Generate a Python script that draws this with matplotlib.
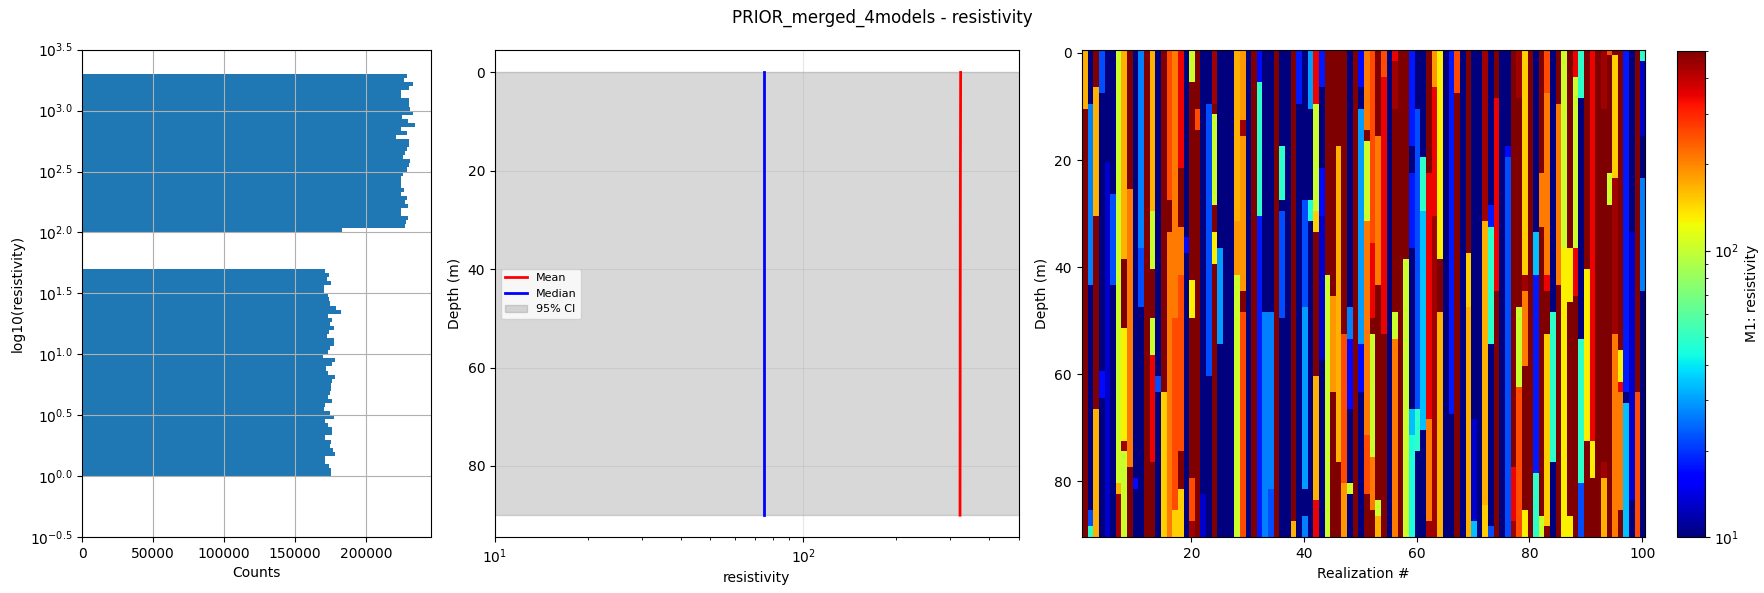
import numpy as np
import matplotlib
matplotlib.use("Agg")
import matplotlib.pyplot as plt
from matplotlib.colors import LogNorm
from matplotlib.ticker import FuncFormatter, MultipleLocator

# ---------------- histogram of log10(resistivity) ----------------
hist_bin_width = 1.0 / 30.0
hist_log_min = 0.0
# counts per bin (thousands), listed from the bottom bin (10^0.0) upward
lower_counts = [175.6, 175.6, 173.7, 170.9, 170.9, 177.9, 176.5, 174.9, 175.1, 171.4,
                175.8, 175.8, 173.0, 170.9, 177.2, 174.4, 170.7, 171.4, 175.8, 173.0,
                174.9, 175.1, 175.1, 175.8, 177.9, 173.0, 171.6, 175.8, 177.9, 169.5,
                173.5, 174.9, 177.2, 177.2, 172.8, 174.2, 177.2, 174.4, 175.8, 173.5,
                182.2, 179.1, 174.9, 174.2, 173.5, 170.2, 170.2, 175.1, 172.8, 174.2,
                170.9]            # 10^0.0 .. 10^1.7
gap_counts = [0.0] * 9           # 10^1.7 .. 10^2.0
upper_counts = [182.9, 227.2, 228.4, 229.8, 224.9, 224.4, 229.8, 227.2, 228.9, 224.6,
                226.5, 224.4, 224.9, 224.4, 225.8, 228.9, 230.5, 231.2, 225.8, 227.7,
                228.9, 230.5, 230.5, 220.9, 229.1, 224.9, 234.3, 229.8, 225.6, 232.9,
                231.2, 230.5, 230.0, 224.9, 224.9, 230.5, 232.9, 227.0, 228.6]  # 10^2.0 .. 10^3.3
hist_counts_thousands = lower_counts + gap_counts + upper_counts

# ---------------- depth profile statistics ----------------
depth_points = [0, 10, 20, 30, 40, 50, 60, 70, 80, 90]
mean_resistivity = [324.5, 324.2, 323.9, 323.7, 323.6, 323.4, 323.3, 323.2, 323.1, 323.0]
median_resistivity = [74.9, 74.9, 74.9, 74.9, 74.9, 74.9, 74.9, 74.9, 74.9, 74.9]
ci_low = [1.3] * 10
ci_high = [1800.0] * 10

# ---------------- realizations (layer top depth, resistivity) ----------------
N, DB, B, B2, MB, AZ, LB, CY = 5, 13, 17, 18, 22, 27, 30, 34
AQ2, AQ = 45, 49
YG, Y, GO, OR, OR2, DO, RO, R, DR, M = 103, 130, 149, 167, 188, 211, 257, 345, 445, 1000

n_depth = 91
realization_layers = [
    [(0, OR), (11, M)],
    [(0, N), (10, AZ), (44, N), (86, MB), (89, AQ)],
    [(0, M), (7, OR), (31, M), (67, OR)],
    [(0, MB), (8, N), (60, B), (65, N)],
    [(0, N), (21, DB)],
    [(0, N), (27, MB), (44, N)],
    [(0, YG), (81, OR), (83, DR)],
    [(0, OR), (39, M), (52, Y), (73, DR), (75, YG)],
    [(0, M), (26, DO), (78, M)],
    [(0, N), (80, B), (82, N)],
    [(0, AZ), (37, MB), (48, N)],
    [(0, M)],
    [(0, OR), (30, YG), (41, M), (50, YG), (57, R), (77, M)],
    [(0, N), (61, MB), (64, N)],
    [(0, M), (64, GO)],
    [(0, RO), (28, M), (34, DO)],
    [(0, DO), (50, RO), (86, GO)],
    [(0, R), (22, M), (33, DO), (42, RO), (75, M), (82, GO)],
    [(0, N), (35, B), (38, N)],
    [(0, YG), (6, M), (43, Y), (50, M), (80, RO), (88, DR)],
    [(0, M), (11, RO), (15, M)],
    [(0, N), (83, DB)],
    [(0, N), (10, MB), (61, N)],
    [(0, DR), (10, M), (12, YG), (29, M), (34, Y), (40, M)],
    [(0, N), (37, LB), (55, N)],
    [(0, N)],
    [(0, N)],
    [(0, OR), (32, OR2), (42, YG)],
    [(0, OR2), (13, DR), (16, OR2), (45, M), (49, RO)],
    [(0, N)],
    [(0, M)],
    [(0, B), (6, AQ), (31, B2)],
    [(0, N), (49, AZ)],
    [(0, N), (49, AZ), (82, MB)],
    [(0, M)],
    [(0, N), (18, AQ), (28, N), (30, MB), (50, N)],
    [(0, N)],
    [(0, M), (88, OR)],
    [(0, B2), (10, N)],
    [(0, N), (28, MB), (48, LB), (82, N), (87, AZ)],
    [(0, LB), (11, N), (28, AQ2), (32, N)],
    [(0, R), (10, YG), (30, GO), (34, M), (61, OR), (84, R)],
    [(0, B2), (7, N), (22, B), (31, DB), (58, N)],
    [(0, M), (42, YG)],
    [(0, M), (46, OR2), (64, M)],
    [(0, M), (18, OR), (77, M)],
    [(0, M), (53, RO), (81, OR2)],
    [(0, N), (48, AZ), (54, B), (67, N), (81, YG), (83, N)],
    [(0, M)],
    [(0, B), (7, N), (11, LB), (55, B), (64, N)],
    [(0, DO), (15, M), (17, YG), (32, DO), (72, RO), (83, M)],
    [(0, RO), (36, R), (50, M), (53, YG), (76, DO), (86, M)],
    [(0, M), (16, DO), (44, M), (84, YG), (87, OR)],
    [(0, RO), (5, R), (53, M)],
    [(0, N)],
    [(0, R), (2, DR), (11, M), (49, YG), (54, DO)],
    [(0, M)],
    [(0, M), (39, YG)],
    [(0, B2), (18, N), (23, B2), (37, N), (67, CY), (72, AQ2)],
    [(0, N), (11, MB), (67, AQ), (75, N)],
    [(0, N), (20, AQ), (30, CY), (71, N)],
    [(0, M), (23, R), (69, DO), (88, DR)],
    [(0, OR2), (7, R), (31, DR)],
    [(0, Y), (39, M), (49, OR)],
    [(0, N)],
    [(0, B2), (68, N)],
    [(0, RO), (8, M)],
    [(0, N)],
    [(0, M), (38, GO), (48, OR)],
    [(0, N), (69, DB), (88, CY)],
    [(0, N)],
    [(0, DR), (32, OR), (85, GO)],
    [(0, N), (29, B2), (33, AQ), (55, N), (89, MB)],
    [(0, M), (9, R), (45, M)],
    [(0, N)],
    [(0, N), (18, B), (20, MB)],
    [(0, M), (78, R), (88, DR)],
    [(0, DR), (9, M), (48, YG), (63, RO)],
    [(0, GO), (42, DR), (45, DO), (59, M), (86, Y)],
    [(0, M)],
    [(0, N), (34, CY), (42, B2), (79, AQ)],
    [(0, M), (23, DO), (33, M), (87, YG)],
    [(0, RO), (8, DO), (42, R), (45, M), (53, GO), (89, M)],
    [(0, N), (49, AQ), (77, N)],
    [(0, M), (10, DO), (44, M)],
    [(0, YG), (37, Y)],
    [(0, M), (37, Y), (47, M), (87, Y)],
    [(0, R), (5, YG), (37, R), (46, M)],
    [(0, AQ), (9, N), (54, AQ), (81, MB)],
    [(0, M), (41, Y), (73, M)],
    [(0, R), (73, Y), (80, M)],
    [(0, M)],
    [(0, DR), (11, M), (77, DR), (80, OR)],
    [(0, RO), (1, M), (23, YG), (29, M)],
    [(0, M), (1, GO), (24, DR), (53, DO)],
    [(0, M), (56, Y), (62, R), (64, DO), (86, M)],
    [(0, B2), (64, N), (66, CY)],
    [(0, N), (34, DB), (84, N)],
    [(0, M), (64, RO)],
    [(0, AQ), (2, DB), (16, N), (24, AZ), (45, N)],
]

# ---------------- figure ----------------
W, H = 1764, 593
fig = plt.figure(figsize=(W / 100, H / 100), dpi=100)
fig.suptitle("PRIOR_merged_4models - resistivity", fontsize=12, y=0.985)


def rect(x0, x1, y0, y1):
    return [x0 / W, 1 - y1 / H, (x1 - x0) / W, (y1 - y0) / H]


# ---- left: histogram ----
ax1 = fig.add_axes(rect(82.3, 431.3, 49.7, 537.0))
edges = np.arange(len(hist_counts_thousands) + 1) * hist_bin_width + hist_log_min
centers = 0.5 * (edges[:-1] + edges[1:])
ax1.hist(centers, bins=edges, weights=np.array(hist_counts_thousands) * 1000.0,
         orientation="horizontal", color="#1f77b4")
ax1.set_ylim(-0.5, 3.5)
ax1.yaxis.set_major_locator(MultipleLocator(0.5))
ax1.yaxis.set_major_formatter(FuncFormatter(lambda v, p: r"$10^{%.1f}$" % v))
ax1.xaxis.set_major_locator(MultipleLocator(50000))
ax1.xaxis.set_major_formatter(FuncFormatter(lambda v, p: "%d" % v))
ax1.grid(True)
ax1.set_xlabel("Counts")
ax1.set_ylabel("log10(resistivity)")

# ---- middle: depth statistics ----
ax2 = fig.add_axes(rect(495.0, 1018.5, 50.3, 537.3))
ax2.fill_betweenx(depth_points, ci_low, ci_high, color="gray", alpha=0.3, label="95% CI")
ax2.plot(mean_resistivity, depth_points, color="red", lw=2, label="Mean")
ax2.plot(median_resistivity, depth_points, color="blue", lw=2, label="Median")
ax2.set_xscale("log")
ax2.set_xlim(10, 500)
ax2.invert_yaxis()
ax2.grid(True, alpha=0.3)
ax2.set_xlabel("resistivity")
ax2.set_ylabel("Depth (m)")
h, l = ax2.get_legend_handles_labels()
order = [l.index("Mean"), l.index("Median"), l.index("95% CI")]
ax2.legend([h[i] for i in order], [l[i] for i in order], loc="center left", fontsize=8)

# ---- right: realizations ----
ax3 = fig.add_axes(rect(1081.5, 1645.0, 50.3, 537.3))
img = np.zeros((n_depth, len(realization_layers)))
for j, layers in enumerate(realization_layers):
    for top, val in layers:
        img[top:, j] = val
n_real = len(realization_layers)
im = ax3.imshow(img, cmap="jet", norm=LogNorm(vmin=10, vmax=500), aspect="auto",
                interpolation="nearest",
                extent=[0.5, n_real + 0.5, n_depth - 0.5, -0.5])
ax3.set_xlabel("Realization #")
ax3.set_ylabel("Depth (m)")

cax = fig.add_axes(rect(1677.0, 1704.6, 50.5, 537.0))
cb = fig.colorbar(im, cax=cax)
cb.set_label("M1: resistivity")

fig.savefig("out.png", dpi=100)
